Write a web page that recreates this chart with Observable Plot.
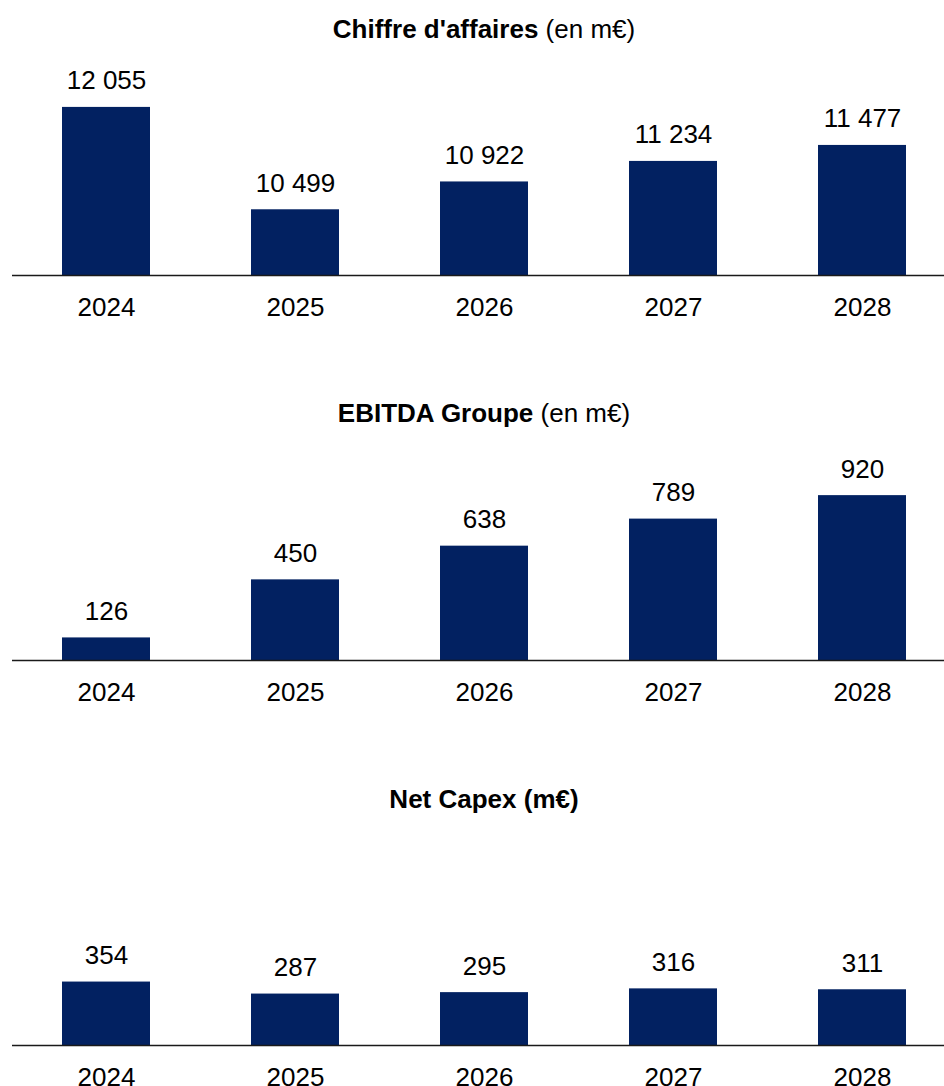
<!DOCTYPE html>
<html>
<head>
<meta charset="utf-8">
<script src="https://cdn.jsdelivr.net/npm/d3@7"></script>
<script src="https://cdn.jsdelivr.net/npm/@observablehq/plot@0.6"></script>
<style>
  html, body { margin: 0; padding: 0; background: #fff; overflow: hidden; }
  #root { position: relative; width: 944px; height: 1086px; font-family: "Liberation Sans", Arial, sans-serif; color: #000; }
  .title { position: absolute; left: 20px; width: 928px; text-align: center; font-size: 26px; line-height: 26px; white-space: nowrap; }
  .title b { font-weight: bold; }
  .chart { position: absolute; left: 0; }
</style>
</head>
<body>
<div id="root"></div>
<script>
// ---- Data ----
const years = ["2024", "2025", "2026", "2027", "2028"];
const revenue = [12055, 10499, 10922, 11234, 11477];   // Chiffre d'affaires (m€)
const ebitda = [126, 450, 638, 789, 920];               // EBITDA Groupe (m€)
const capex = [354, 287, 295, 316, 311];                // Net Capex (m€)

const titles = [
  {bold: "Chiffre d'affaires", normal: " (en m€)"},
  {bold: "EBITDA Groupe", normal: " (en m€)"},
  {bold: "Net Capex (m€)", normal: ""}
];

// ---- Layout ----
const panels = [
  {values: revenue, yMin: 9500, unitsPerPx: 15.2, baseline: 275, titleTop: 16},
  {values: ebitda, yMin: 0, unitsPerPx: 5.58, baseline: 660, titleTop: 400},
  {values: capex, yMin: 0, unitsPerPx: 5.58, baseline: 1045, titleTop: 786}
];

const NAVY = "#022161";
const fmt = v => String(v).replace(/\B(?=(\d{3})+(?!\d))/g, " ");
const root = document.getElementById("root");

panels.forEach((p, i) => {
  const t = document.createElement("div");
  t.className = "title";
  t.style.top = p.titleTop + "px";
  t.innerHTML = `<b>${titles[i].bold}</b>${titles[i].normal}`;
  root.appendChild(t);

  const data = years.map((y, k) => ({year: y, value: p.values[k]}));
  const svgH = 270, base = 225;
  const yMax = d3.max(p.values);

  const chart = Plot.plot({
    width: 944,
    height: svgH,
    marginLeft: 12,
    marginRight: 0,
    marginTop: 0,
    marginBottom: svgH - base,
    style: {fontFamily: "'Liberation Sans', Arial, sans-serif", fontSize: "26px", color: "#000", background: "transparent", overflow: "visible"},
    x: {type: "band", domain: years, range: [11.5, 956.5], paddingInner: 0.534, paddingOuter: 0.267, align: 0.5,
        tickSize: 0, tickPadding: 22.5, label: null},
    y: {domain: [p.yMin, yMax], range: [base, base - (yMax - p.yMin) / p.unitsPerPx], axis: null},
    marks: [
      Plot.barY(data, {x: "year", y1: p.yMin, y2: "value", fill: NAVY}),
      Plot.ruleY([p.yMin], {stroke: "#1a1a1a", strokeWidth: 1.6}),
      Plot.text(data, {x: "year", y: "value", text: d => fmt(d.value), lineAnchor: "bottom", dy: -18, fill: "#000"})
    ]
  });
  chart.classList.add("chart");
  chart.style.top = (p.baseline - base) + "px";
  root.appendChild(chart);
});
</script>
</body>
</html>
